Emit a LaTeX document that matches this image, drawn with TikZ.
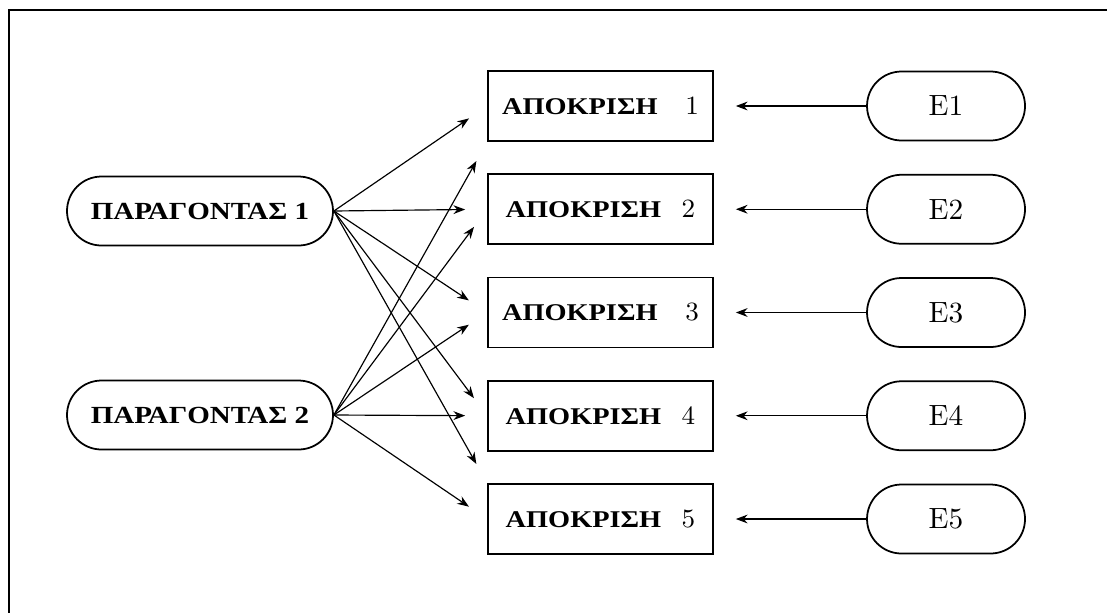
\documentclass[tikz,border=0pt]{standalone}
\usepackage{fontspec}
\newfontfamily\grfont[FakeStretch=1.18]{Liberation Serif}
\usetikzlibrary{arrows.meta}

\begin{document}
\begin{tikzpicture}[
    box/.style={draw,semithick,minimum width=2.7cm,minimum height=0.84cm,inner sep=0pt},
    pill/.style={draw,semithick,rounded corners=0.414cm,minimum height=0.828cm,inner sep=0pt},
    arr/.style={thin,-{Stealth[length=4pt,width=3pt]},shorten >=7.5pt},
    gr/.style={font=\grfont\bfseries\fontsize{8.4}{10}\selectfont}]
       \useasboundingbox(0,0)rectangle(13.284,7.344);%全体
       \draw[line width=0.9pt](0.108,-0.2)--(0.108,7.224)--(13.5,7.224);%枠

       \node[pill,gr,minimum width=3.192cm](P1)at(2.4,4.812){ΠΑΡΑΓΟΝΤΑΣ 1};%要因1
       \node[pill,gr,minimum width=3.192cm](P2)at(2.4,2.364){ΠΑΡΑΓΟΝΤΑΣ 2};%要因2

       \foreach \t/\s in{1/9.5pt,2/7pt,3/9.5pt,4/7pt,5/7pt}{
           \node[box](R\t)at(7.206,{6.072-(\t-1)*1.239})
               {{\grfont\bfseries\fontsize{8.2}{10}\selectfont ΑΠΟΚΡΙΣΗ}\hspace{\s}{\fontsize{9}{11}\selectfont\t}};%応答
           \node[pill,minimum width=1.896cm](E\t)at(11.352,{6.072-(\t-1)*1.239}){E\t};%誤差
           \draw[arr](E\t.west)--(R\t.east);%誤差→応答
       }

       \foreach \t in{1,...,4}
           \draw[arr](P1.east)--(R\t.west);%要因1→応答
       \draw[arr](P1.east)--(R5.north west);
       \draw[arr](P2.east)--(R1.south west);
       \foreach \t in{2,...,5}
           \draw[arr](P2.east)--(R\t.west);%要因2→応答

      \end{tikzpicture}
\end{document}
